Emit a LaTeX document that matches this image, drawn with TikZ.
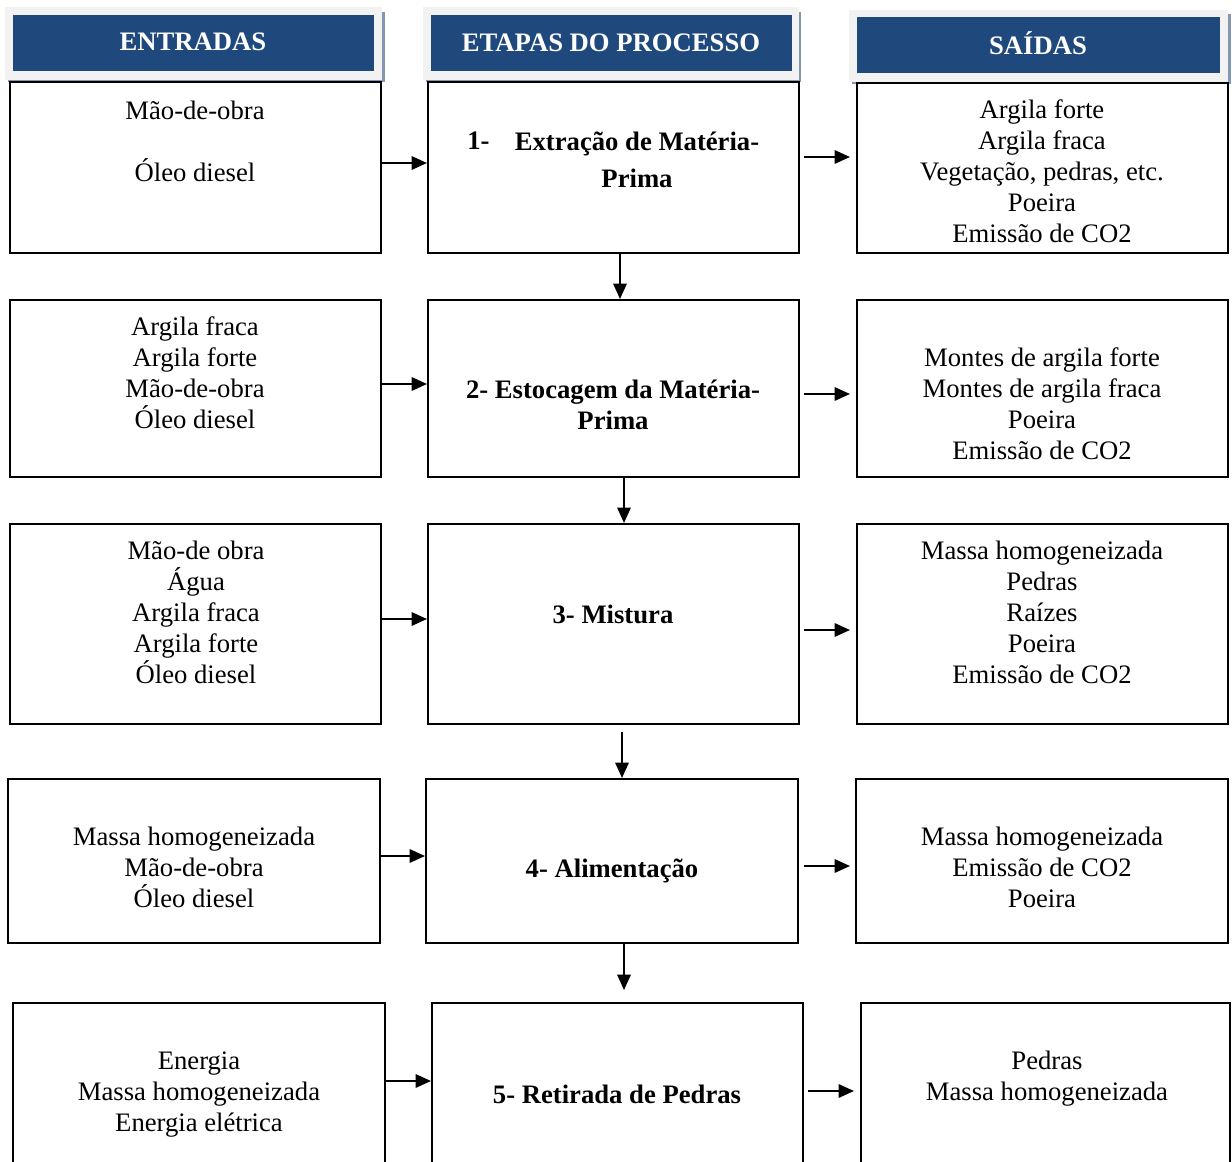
\documentclass[tikz,border=0pt]{standalone}
\usepackage{fontspec}
\setmainfont{Liberation Serif}
\usetikzlibrary{fit,calc,arrows.meta}
\definecolor{hdrblue}{HTML}{1F497D}
\definecolor{hdrgray}{HTML}{F2F2F2}
\definecolor{hdrshadow}{HTML}{8497B0}

\begin{document}
\begin{tikzpicture}[x=0.75pt,y=-0.75pt,
  box/.style={draw, line width=1.5pt, inner sep=0pt, rectangle},
  txt/.style={font=\fontsize{20}{23.25}\selectfont, align=center, inner sep=0pt},
  steptxt/.style={txt, font=\fontsize{20}{23.25}\selectfont\bfseries},
  hdrtxt/.style={font=\fontsize{20}{24}\selectfont\bfseries, text=white, inner sep=0pt},
  hdrframe/.style={fill=hdrgray, inner sep=0pt, rectangle},
  hdrbar/.style={fill=hdrblue, inner sep=0pt, rectangle},
  hdrshade/.style={fill=hdrshadow, inner sep=0pt, rectangle},
  arr/.style={line width=1.6pt, -{Triangle[length=11.5pt,width=10pt]}}
]
\useasboundingbox (0,0) rectangle (1232,1162);
\clip (0,0) rectangle (1232,1162);

% column headers
\node[hdrshade, fit={(8,12) (385,82)}] (h1s) {};
\node[hdrframe, fit={(5,7) (382,80)}] (h1f) {};
\node[hdrbar, fit={(13,15) (374,71)}] (h1b) {};
\node[hdrtxt] (h1t) at (193,41.5) {ENTRADAS};

\node[hdrshade, fit={(426,12) (801,82)}] (h2s) {};
\node[hdrframe, fit={(423,7) (799,80)}] (h2f) {};
\node[hdrbar, fit={(431,15) (792,71)}] (h2b) {};
\node[hdrtxt] (h2t) at (611,42.5) {ETAPAS DO PROCESSO};

\node[hdrshade, fit={(852,14) (1231,84)}] (h3s) {};
\node[hdrframe, fit={(849,10) (1228,82)}] (h3f) {};
\node[hdrbar, fit={(857,17) (1220,73)}] (h3b) {};
\node[hdrtxt] (h3t) at (1038,43.5) {SAÍDAS};

% boxes: inputs, process steps, outputs
\node[box, fit={(10,82) (381,253)}] (in1) {};
\node[box, fit={(428,82) (799,253)}] (st1) {};
\node[box, fit={(857,83) (1228,253)}] (out1) {};

\node[box, fit={(10,300) (381,477)}] (in2) {};
\node[box, fit={(428,300) (799,477)}] (st2) {};
\node[box, fit={(857,300) (1228,477)}] (out2) {};

\node[box, fit={(10,524) (381,724)}] (in3) {};
\node[box, fit={(428,524) (799,724)}] (st3) {};
\node[box, fit={(857,524) (1228,724)}] (out3) {};

\node[box, fit={(8,779) (380,943)}] (in4) {};
\node[box, fit={(426,779) (798,943)}] (st4) {};
\node[box, fit={(856,779) (1228,943)}] (out4) {};

\node[box, fit={(13,1003) (385,1180)}] (in5) {};
\node[box, fit={(432,1003) (803,1180)}] (st5) {};
\node[box, fit={(861,1003) (1230,1180)}] (out5) {};

% texts
\node[txt] (in1t) at (195,141) {Mão-de-obra\\[23.25pt]Óleo diesel};
\node[steptxt, anchor=west] (st1n) at (467,141) {1-};
\node[steptxt] (st1t) at (637,160) {Extração de Matéria-\\[4pt]Prima};
\node[txt] (out1t) at (1042,171) {Argila forte\\Argila fraca\\Vegetação, pedras, etc.\\Poeira\\Emissão de CO2};

\node[txt] (in2t) at (195,373) {Argila fraca\\Argila forte\\Mão-de-obra\\Óleo diesel};
\node[steptxt] (st2t) at (613,404.5) {2- Estocagem da Matéria-\\Prima};
\node[txt] (out2t) at (1042,404) {Montes de argila forte\\Montes de argila fraca\\Poeira\\Emissão de CO2};

\node[txt] (in3t) at (196,612) {Mão-de obra\\Água\\Argila fraca\\Argila forte\\Óleo diesel};
\node[steptxt] (st3t) at (613,614) {3- Mistura};
\node[txt] (out3t) at (1042,612) {Massa homogeneizada\\Pedras\\Raízes\\Poeira\\Emissão de CO2};

\node[txt] (in4t) at (194,867) {Massa homogeneizada\\Mão-de-obra\\Óleo diesel};
\node[steptxt] (st4t) at (612,870.5) {4- Alimentação};
\node[txt] (out4t) at (1042,867) {Massa homogeneizada\\Emissão de CO2\\Poeira};

\node[txt] (in5t) at (199,1094.5) {Energia\\Massa homogeneizada\\Energia elétrica};
\node[steptxt] (st5t) at (617,1094) {5- Retirada de Pedras};
\node[txt] (out5t) at (1047,1079) {Pedras\\Massa homogeneizada};

% connectors
\draw[arr] ($(in1.east)+(0,-4.5)$) -- ($(st1.west)+(0,-4.5)$);
\draw[arr] ($(st1.east)+(4,-10.5)$) -- ($(out1.west)+(-6,-11)$);
\draw[arr] ($(st1.south)+(6.5,0)$) -- ($(st2.north)+(6.5,0)$);

\draw[arr] ($(in2.east)+(0,-4.5)$) -- ($(st2.west)+(0,-4.5)$);
\draw[arr] ($(st2.east)+(4,5.5)$) -- ($(out2.west)+(-6,5.5)$);
\draw[arr] ($(st2.south)+(10.5,0)$) -- ($(st3.north)+(10.5,0)$);

\draw[arr] ($(in3.east)+(0,-5)$) -- ($(st3.west)+(0,-5)$);
\draw[arr] ($(st3.east)+(4,6)$) -- ($(out3.west)+(-6,6)$);
\draw[arr] ($(st3.south)+(8.5,7)$) -- ($(st4.north)+(10,0)$);

\draw[arr] ($(in4.east)+(0,-5)$) -- ($(st4.west)+(0,-5)$);
\draw[arr] ($(st4.east)+(5,5)$) -- ($(out4.west)+(-5,5)$);
\draw[arr] ($(st4.south)+(12,0)$) -- ($(st5.north)+(6.5,-12)$);

\draw[arr] ($(in5.east)+(0,-10.5)$) -- ($(st5.west)+(0,-10.5)$);
\draw[arr] ($(st5.east)+(4,-0.5)$) -- ($(out5.west)+(-6,-0.5)$);
\end{tikzpicture}
\end{document}
